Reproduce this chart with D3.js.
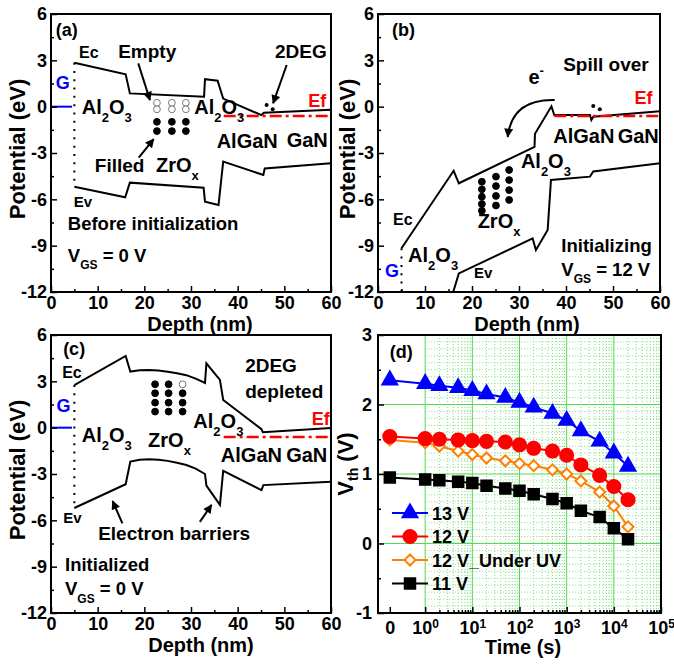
<!DOCTYPE html>
<html>
<head>
<meta charset="utf-8">
<script src="https://cdn.jsdelivr.net/npm/d3@7"></script>
<style>
  body { margin: 0; background: #fff; }
  text { font-family: "Liberation Sans", Arial, sans-serif; font-weight: bold; }
</style>
</head>
<body>
<svg id="fig" width="674" height="664"></svg>
<script>
// ---------- band diagrams: [depth (nm), potential (eV)] ----------
const depthTicks = [0, 10, 20, 30, 40, 50, 60];
const depthMinor = [5, 15, 25, 35, 45, 55];
const potTicks = [-12, -9, -6, -3, 0, 3, 6];
const potMinor = [-10.5, -7.5, -4.5, -1.5, 1.5, 4.5];

const ecA = [[5, 2.85], [16, 2.1], [16.9, 0.86], [32.8, 0.65], [33, 1.78], [35.7, 1.68], [36.9, 0.52], [45.1, -0.55], [45.6, -0.4], [60, -0.2]];
const evA = [[5, -5.18], [15.9, -5.87], [16.9, -4.92], [32.7, -5.25], [33, -6.15], [35.9, -6.37], [36.9, -3.56], [45.5, -4.42], [45.8, -4.0], [60, -3.67]];
const ecB = [[5, -9.17], [16.1, -4.15], [17.2, -4.96], [33.3, -2.6], [33.4, -1.75], [36.9, 0.02], [37.5, -0.54], [45.1, -0.54], [45.4, -0.86], [45.8, -0.65], [60, -0.3]];
const evB = [[16, -12], [17.2, -10.8], [32.9, -8.53], [33.6, -9.28], [36.1, -7.98], [36.8, -4.75], [45.1, -4.53], [45.8, -4.2], [60, -3.67]];
const ecC = [[5, 2.76], [16, 4.64], [17, 3.63], [19, 3.72], [21, 3.74], [23, 3.7], [25, 3.62], [27, 3.52], [29, 3.4], [31, 3.18], [33, 2.9], [33.3, 4.17], [36.2, 3.09], [36.9, 1.79], [45.1, -0.1], [45.4, -0.3], [60, -0.02]];
const evC = [[5, -5.2], [16, -3.66], [17, -2.2], [19, -2.08], [21, -2.05], [23, -2.08], [25, -2.15], [27, -2.27], [29, -2.42], [31, -2.65], [33, -3.0], [33.3, -3.75], [36.2, -5.0], [36.9, -2.8], [45.1, -4.05], [45.5, -3.72], [60, -3.5]];

const efA = [[37, -0.6], [60, -0.6]];
const efB = [[37.5, -0.6], [60, -0.6]];
const efC = [[37, -0.6], [60, -0.6]];
const gateA = [[0, 0], [4.5, 0]];
const gateB = [[0, -12], [4.5, -12]];
const gateC = [[0, 0], [4.5, 0]];
const oxideA = [[5, 2.85], [5, -5.18]];
const oxideB = [[5, -9.17], [5, -12]];
const oxideC = [[5, 2.76], [5, -5.2]];

// traps: [depth, potential, filled]
const trapsA = [[22.7, 0.25, 0], [25.9, 0.25, 0], [28.9, 0.25, 0], [22.7, -0.17, 0], [25.9, -0.17, 0], [28.9, -0.17, 0],
                [22.7, -0.98, 1], [25.9, -0.98, 1], [28.9, -0.98, 1], [22.7, -1.58, 1], [25.9, -1.58, 1], [28.9, -1.58, 1]];
const trapsB = [[22.1, -4.86, 1], [22.1, -5.35, 1], [22.1, -5.83, 1], [22.1, -6.3, 1], [22.1, -6.74, 1],
                [25.1, -4.53, 1], [25.1, -5.14, 1], [25.1, -5.78, 1], [25.1, -6.4, 1],
                [27.9, -4.1, 1], [27.9, -4.75, 1], [27.9, -5.4, 1], [27.9, -6.04, 1]];
const trapsC = [[22.3, 2.81, 1], [25.2, 2.81, 1], [28.2, 2.81, 0], [22.3, 2.23, 1], [25.2, 2.23, 1], [28.2, 2.23, 1],
                [22.3, 1.62, 1], [25.2, 1.62, 1], [28.2, 1.62, 1], [22.3, 1.04, 1], [25.2, 1.04, 1], [28.2, 1.04, 1]];
const electronsA = [[46.2, 0.11], [47.5, -0.17]];
const electronsB = [[45.8, 0.04], [47.2, -0.17]];

// labels: [text, depth, potential, size, colour]
const labelsA = [
  ["(a)", 1.0, 4.6, 18], ["Ec", 6.0, 3.15, 16], ["Empty", 14.4, 3.15, 19], ["2DEG", 48.0, 3.15, 19],
  ["G", 1.0, 1.15, 18, "#0000ff"], ["Al_{2}O_{3}", 6.6, -0.45, 20], ["Al_{2}O_{3}", 30.7, -0.45, 20],
  ["Ef", 55.1, 0.0, 18, "#ff0000"], ["AlGaN", 35.5, -2.65, 20], ["GaN", 50.5, -2.6, 20],
  ["Filled", 9.4, -4.2, 19], ["ZrO_{x}", 22.5, -4.2, 20], ["Ev", 4.9, -6.5, 15],
  ["Before initialization", 3.6, -8.0, 18.5], ["V_{GS} = 0 V", 3.6, -10.06, 18.5]
];
const labelsB = [
  ["(b)", 3.0, 4.6, 18], ["e^{-}", 32, 1.47, 20], ["Spill over", 39.4, 2.3, 19], ["Ef", 54.6, 0.2, 18, "#ff0000"],
  ["AlGaN", 37.3, -2.37, 20], ["GaN", 51.0, -2.37, 20], ["Al_{2}O_{3}", 30.4, -3.97, 20],
  ["ZrO_{x}", 21.2, -7.86, 20], ["Ec", 3.2, -7.66, 16], ["Al_{2}O_{3}", 6.4, -10.06, 20],
  ["G", 1.5, -11.03, 18, "#0000ff"], ["Ev", 20.4, -11.1, 15],
  ["Initializing", 39, -9.4, 18.5], ["V_{GS} = 12 V", 39, -10.96, 18.5]
];
const labelsC = [
  ["(c)", 2.6, 4.7, 18], ["Ec", 2.4, 3.2, 16], ["G", 1.2, 1.03, 18, "#0000ff"],
  ["2DEG", 41.6, 3.62, 19], ["depleted", 41.6, 1.9, 19], ["Ef", 55.9, 0.17, 18, "#ff0000"],
  ["Al_{2}O_{3}", 6.6, -0.91, 20], ["ZrO_{x}", 20.8, -1.23, 20], ["Al_{2}O_{3}", 30.5, -0.04, 20],
  ["AlGaN", 36.4, -2.2, 20], ["GaN", 50.4, -2.2, 20], ["Ev", 2.6, -6.2, 15],
  ["Electron barriers", 10.1, -7.3, 19], ["Initialized", 3.0, -9.25, 18.5], ["V_{GS} = 0 V", 3.0, -10.85, 18.5]
];
// arrows: [from depth, from pot, to depth, to pot]
const arrowsA = [[18.7, 2.8, 21.2, 0.43], [50.5, 2.7, 47.6, 0.22], [18.8, -3.3, 22.0, -2.1]];
const arrowsC = [[15.3, -6.2, 13.2, -4.75], [31.9, -6.1, 34.4, -5.0]];
// curved "spill over" arrow in (b): start, control, end
const spillB = [[37.6, 0.43], [28.5, 0.5], [27.6, -1.95]];

// ---------- threshold voltage vs time ----------
const times = [0, 1, 2, 5, 10, 20, 50, 100, 200, 500, 1000, 2000, 5000, 10000, 20000];
const v13 = [2.35, 2.30, 2.27, 2.24, 2.20, 2.15, 2.10, 2.03, 1.96, 1.87, 1.77, 1.62, 1.47, 1.30, 1.11];
const v12 = [1.54, 1.51, 1.50, 1.49, 1.48, 1.47, 1.46, 1.42, 1.37, 1.33, 1.27, 1.13, 0.98, 0.82, 0.63];
const v12uv = [1.49, 1.45, 1.40, 1.33, 1.28, 1.23, 1.19, 1.15, 1.12, 1.06, 1.00, 0.90, 0.74, 0.54, 0.24];
const v11 = [0.95, 0.92, 0.91, 0.89, 0.87, 0.83, 0.79, 0.76, 0.71, 0.64, 0.58, 0.47, 0.38, 0.22, 0.06];
const seriesNames = ["13 V", "12 V", "12 V_Under UV", "11 V"];
const vthTicks = [-1, 0, 1, 2, 3];
const vthMinor = [-0.5, 0.5, 1.5, 2.5];
const tZero = 0.178; // where t = 0 sits on the log axis

const svg = d3.select("#fig");
const defs = svg.append("defs");
defs.append("marker").attr("id", "ah").attr("viewBox", "0 0 10 10")
  .attr("refX", 9).attr("refY", 5).attr("markerWidth", 11).attr("markerHeight", 9)
  .attr("markerUnits", "userSpaceOnUse").attr("orient", "auto")
  .append("path").attr("d", "M0,0L10,5L0,10z").attr("fill", "#000");

// text with _{sub} and ^{sup}
function rich(g, x, y, markup, size, color, anchor) {
  const t = g.append("text").attr("x", x).attr("y", y)
    .attr("font-size", size).attr("fill", color || "#000")
    .attr("text-anchor", anchor || "start");
  const re = /([_^])\{([^}]*)\}|([^_^]+)/g;
  let m, shift = 0;
  while ((m = re.exec(markup))) {
    if (m[3]) {
      t.append("tspan").attr("dy", -shift).text(m[3]);
      shift = 0;
    } else {
      const s = m[1] === "_" ? size * 0.4 : -size * 0.45;
      t.append("tspan").attr("dy", s - shift).attr("font-size", size * 0.65).text(m[2]);
      shift = s;
    }
  }
  return t;
}

function styleAxis(g) {
  g.selectAll(".domain").remove();
  g.selectAll(".tick line").attr("stroke", "#000").attr("stroke-width", 1.5);
  g.selectAll(".tick text").attr("font-size", 18).attr("fill", "#000");
}

function bandPanel(p) {
  const x = d3.scaleLinear().domain([0, 60]).range([p.left, p.right]);
  const y = d3.scaleLinear().domain([-12, 6]).range([p.bottom, p.top]);
  const g = svg.append("g");
  defs.append("clipPath").attr("id", "clip-" + p.id).append("rect")
    .attr("x", p.left).attr("y", p.top).attr("width", p.right - p.left).attr("height", p.bottom - p.top);
  const plot = g.append("g").attr("clip-path", `url(#clip-${p.id})`);
  const line = d3.line().x(d => x(d[0])).y(d => y(d[1]));

  const ax = g.append("g");
  ax.append("g").attr("transform", `translate(0,${p.bottom})`)
    .call(d3.axisBottom(x).tickValues(depthTicks).tickSize(-6).tickPadding(4).tickFormat(d => String(d)));
  ax.append("g").attr("transform", `translate(0,${p.bottom})`)
    .call(d3.axisBottom(x).tickValues(depthMinor).tickSize(-3).tickFormat(""));
  ax.append("g").attr("transform", `translate(${p.left},0)`)
    .call(d3.axisLeft(y).tickValues(potTicks).tickSize(-6).tickPadding(4).tickFormat(d => String(d)));
  ax.append("g").attr("transform", `translate(${p.left},0)`)
    .call(d3.axisLeft(y).tickValues(potMinor).tickSize(-3).tickFormat(""));
  styleAxis(ax);

  plot.append("path").attr("d", line(p.gate)).attr("stroke", "#0000ff").attr("stroke-width", 2).attr("fill", "none");
  plot.append("path").attr("d", line(p.oxide)).attr("stroke", "#000").attr("stroke-width", 2)
    .attr("stroke-dasharray", "2,6.3").attr("fill", "none");
  [p.ec, p.ev].forEach(s => plot.append("path").attr("d", line(s))
    .attr("stroke", "#000").attr("stroke-width", 2).attr("fill", "none"));
  plot.append("path").attr("d", line(p.ef)).attr("stroke", "#ff0000").attr("stroke-width", 2.5)
    .attr("stroke-dasharray", "12,4,3,4").attr("fill", "none");

  plot.selectAll(".trap").data(p.traps).join("circle")
    .attr("cx", d => x(d[0])).attr("cy", d => y(d[1])).attr("r", 3.4)
    .attr("fill", d => d[2] ? "#000" : "#fff")
    .attr("stroke", d => d[2] ? "#000" : "#777").attr("stroke-width", 1);
  plot.selectAll(".el").data(p.electrons || []).join("circle")
    .attr("cx", d => x(d[0])).attr("cy", d => y(d[1])).attr("r", 2).attr("fill", "#000");

  (p.arrows || []).forEach(a => g.append("line")
    .attr("x1", x(a[0])).attr("y1", y(a[1])).attr("x2", x(a[2])).attr("y2", y(a[3]))
    .attr("stroke", "#000").attr("stroke-width", 2).attr("marker-end", "url(#ah)"));
  if (p.curve) {
    const [s, c, e] = p.curve;
    g.append("path")
      .attr("d", `M${x(s[0])},${y(s[1])}Q${x(c[0])},${y(c[1])} ${x(e[0])},${y(e[1])}`)
      .attr("stroke", "#000").attr("stroke-width", 2).attr("fill", "none").attr("marker-end", "url(#ah)");
  }

  p.labels.forEach(l => rich(g, x(l[1]), y(l[2]), l[0], l[3], l[4]));

  g.append("rect").attr("x", p.left).attr("y", p.top)
    .attr("width", p.right - p.left).attr("height", p.bottom - p.top)
    .attr("fill", "none").attr("stroke", "#000").attr("stroke-width", 2);

  g.append("text").attr("x", p.xlabX).attr("y", p.bottom + 39).attr("text-anchor", "middle")
    .attr("font-size", 20).text("Depth (nm)");
  g.append("text").attr("transform", `translate(${p.ylabX},${(p.top + p.bottom) / 2 - 4}) rotate(-90)`)
    .attr("text-anchor", "middle").attr("font-size", 22).text("Potential (eV)");
}

bandPanel({ id: "a", left: 51, right: 331, top: 14, bottom: 292, xlabX: 200, ylabX: 25,
  ec: ecA, ev: evA, ef: efA, gate: gateA, oxide: oxideA, traps: trapsA, electrons: electronsA,
  labels: labelsA, arrows: arrowsA });
bandPanel({ id: "b", left: 378, right: 660, top: 14, bottom: 292, xlabX: 527, ylabX: 355,
  ec: ecB, ev: evB, ef: efB, gate: gateB, oxide: oxideB, traps: trapsB, electrons: electronsB,
  labels: labelsB, curve: spillB });
bandPanel({ id: "c", left: 51, right: 331, top: 335, bottom: 613, xlabX: 201, ylabX: 25,
  ec: ecC, ev: evC, ef: efC, gate: gateC, oxide: oxideC, traps: trapsC,
  labels: labelsC, arrows: arrowsC });

// ---------- panel (d) ----------
(function () {
  const left = 378, right = 661, top = 335, bottom = 613;
  const x = d3.scaleLog().domain([0.1, 1e5]).range([left, right]);
  const y = d3.scaleLinear().domain([-1, 3]).range([bottom, top]);
  const g = svg.append("g");
  const tPos = t => x(t === 0 ? tZero : t);

  // grid
  const grid = g.append("g");
  const decades = [1, 10, 100, 1000, 10000];
  const minorX = [];
  decades.forEach(dd => { for (let k = 2; k <= 9; k++) minorX.push(dd * k); });
  const minorY = d3.range(-9, 30).map(i => i / 10).filter(v => Math.abs(v - Math.round(v)) > 1e-6);
  grid.selectAll(".mx").data(minorX).join("line")
    .attr("x1", d => x(d)).attr("x2", d => x(d)).attr("y1", top).attr("y2", bottom)
    .attr("stroke", "#7ee07e").attr("stroke-width", 1).attr("stroke-dasharray", "1,2");
  grid.selectAll(".my").data(minorY).join("line")
    .attr("x1", x(1)).attr("x2", right).attr("y1", d => y(d)).attr("y2", d => y(d))
    .attr("stroke", "#7ee07e").attr("stroke-width", 1).attr("stroke-dasharray", "1,2");
  grid.selectAll(".Mx").data(decades).join("line")
    .attr("x1", d => x(d)).attr("x2", d => x(d)).attr("y1", top).attr("y2", bottom)
    .attr("stroke", "#4fdc4f").attr("stroke-width", 1);
  grid.selectAll(".My").data([0, 1, 2]).join("line")
    .attr("x1", left).attr("x2", right).attr("y1", d => y(d)).attr("y2", d => y(d))
    .attr("stroke", "#4fdc4f").attr("stroke-width", 1);

  // axes
  const ax = g.append("g");
  const xMajor = [tZero, 1, 10, 100, 1000, 10000, 100000];
  const xa = ax.append("g").attr("transform", `translate(0,${bottom})`)
    .call(d3.axisBottom(x).tickValues(xMajor).tickSize(-6).tickPadding(8).tickFormat(""));
  ax.append("g").attr("transform", `translate(0,${bottom})`)
    .call(d3.axisBottom(x).tickValues(minorX).tickSize(-3).tickFormat(""));
  ax.append("g").attr("transform", `translate(${left},0)`)
    .call(d3.axisLeft(y).tickValues(vthTicks).tickSize(-6).tickPadding(6).tickFormat(d => String(d)));
  ax.append("g").attr("transform", `translate(${left},0)`)
    .call(d3.axisLeft(y).tickValues(vthMinor).tickSize(-3).tickFormat(""));
  styleAxis(ax);
  xa.selectAll(".tick text").each(function (d) {
    const t = d3.select(this);
    if (d === tZero) { t.text("0"); return; }
    t.append("tspan").text("10");
    t.append("tspan").attr("dy", "-0.5em").attr("font-size", 12).text(Math.round(Math.log10(d)));
  });

  // series
  const series = [
    { v: v13, color: "#0000ff", sym: d3.symbolTriangle, size: 95, fill: "#0000ff", rot: 0 },
    { v: v12, color: "#ff0000", sym: d3.symbolCircle, size: 135, fill: "#ff0000", rot: 0 },
    { v: v12uv, color: "#ff8000", sym: d3.symbolSquare, size: 60, fill: "#fff", rot: 45 },
    { v: v11, color: "#000000", sym: d3.symbolSquare, size: 110, fill: "#000", rot: 0 }
  ];
  const line = d3.line().x(d => tPos(d[0])).y(d => y(d[1]));
  series.slice().reverse().forEach(s => {
    const pts = times.map((t, i) => [t, s.v[i]]);
    g.append("path").attr("d", line(pts)).attr("stroke", s.color).attr("stroke-width", 2).attr("fill", "none");
    g.selectAll(null).data(pts).join("path")
      .attr("d", d3.symbol(s.sym, s.size)())
      .attr("transform", d => `translate(${tPos(d[0])},${y(d[1])}) rotate(${s.rot})`)
      .attr("fill", s.fill).attr("stroke", s.color).attr("stroke-width", 2);
  });

  // legend
  const legend = g.append("g");
  series.forEach((s, i) => {
    const ly = top + 178 + i * 23.5;
    legend.append("line").attr("x1", left + 14).attr("x2", left + 50).attr("y1", ly).attr("y2", ly)
      .attr("stroke", s.color).attr("stroke-width", 2);
    legend.append("path").attr("d", d3.symbol(s.sym, s.size)())
      .attr("transform", `translate(${left + 32},${ly}) rotate(${s.rot})`)
      .attr("fill", s.fill).attr("stroke", s.color).attr("stroke-width", 2);
    legend.append("text").attr("x", left + 54).attr("y", ly + 6.5).attr("font-size", 18).text(seriesNames[i]);
  });

  g.append("text").attr("x", tPos(0)).attr("y", y(2.67)).attr("font-size", 18).text("(d)");

  g.append("rect").attr("x", left).attr("y", top).attr("width", right - left).attr("height", bottom - top)
    .attr("fill", "none").attr("stroke", "#000").attr("stroke-width", 2);

  g.append("text").attr("x", 523).attr("y", bottom + 41).attr("text-anchor", "middle")
    .attr("font-size", 20).text("Time (s)");
  const vl = g.append("text").attr("text-anchor", "middle").attr("font-size", 22)
    .attr("transform", `translate(353,${(top + bottom) / 2 - 10}) rotate(-90)`);
  vl.append("tspan").text("V");
  vl.append("tspan").attr("font-size", 14).attr("dy", 5).text("th");
  vl.append("tspan").attr("dy", -5).text(" (V)");
})();
</script>
</body>
</html>
